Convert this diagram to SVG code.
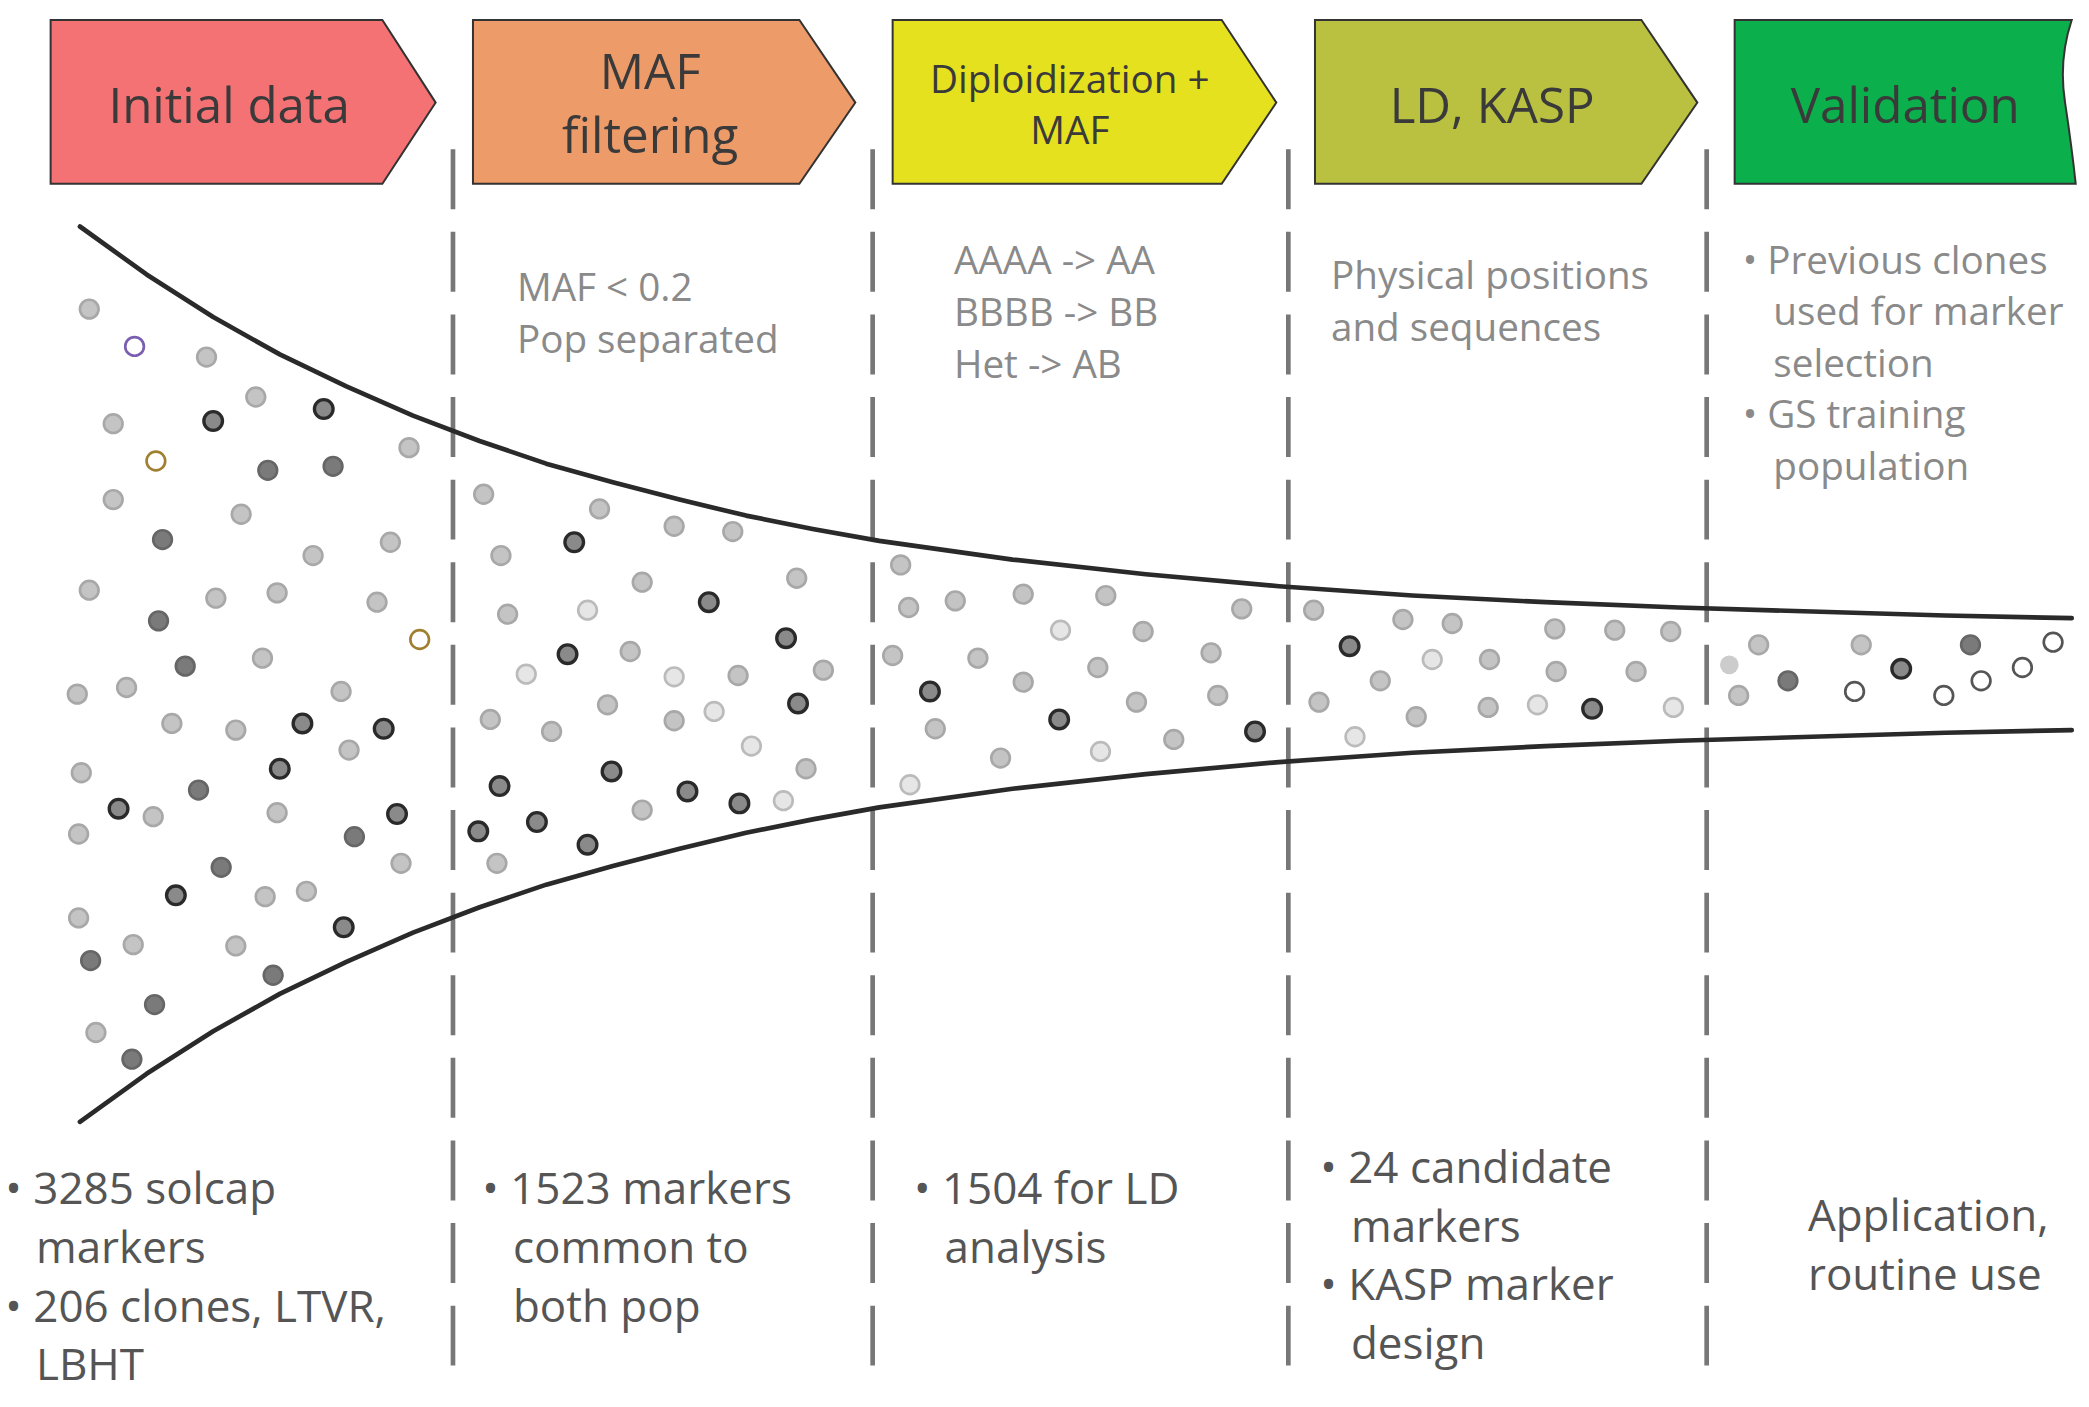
<svg xmlns="http://www.w3.org/2000/svg" width="2089" height="1407" viewBox="0 0 2089 1407">
<style>
.box{stroke:#333;stroke-width:1.5}
.hd{font-family:"Open Sans","Liberation Sans",sans-serif;fill:#3a3a3a;text-anchor:middle}
.tx{font-family:"Open Sans","Liberation Sans",sans-serif;fill:#8a8a8a;font-size:29px}
.bt{font-family:"Open Sans","Liberation Sans",sans-serif;fill:#555;font-size:33px}
.dash{stroke:#777;stroke-width:3.5;stroke-dasharray:45 17;fill:none}
.curve{stroke:#2a2a2a;stroke-width:3.5;fill:none;stroke-linejoin:round;stroke-linecap:round}
.l{fill:#c4c4c4;stroke:#a8a8a8;stroke-width:2}
.vl{fill:#e6e6e6;stroke:#bbb;stroke-width:2}
.m{fill:#a9a9a9;stroke:#7a7a7a;stroke-width:2}
.d{fill:#8a8a8a;stroke:#2a2a2a;stroke-width:2.5}
.g{fill:#7a7a7a;stroke:#666;stroke-width:2}
.o{fill:#fff;stroke:#555;stroke-width:2}
</style>
<rect width="2089" height="1407" fill="#fff"/>
<g transform="scale(1.3323)">
<g id="n-initial"><path class="box" d="M38 15H287L327 77L287 138H38Z" fill="#F47174"/><text class="hd" x="172" y="92" font-size="37">Initial data</text></g>
<g id="n-maf"><path class="box" d="M355 15H600L642 77L600 138H355Z" fill="#EE9B6A"/><text class="hd" x="488" y="67" font-size="37">MAF</text><text class="hd" x="488" y="115" font-size="37">filtering</text></g>
<g id="n-diplo"><path class="box" d="M670 15H917L958 77L917 138H670Z" fill="#E6E11E"/><text class="hd" x="803" y="70" font-size="29">Diploidization +</text><text class="hd" x="803" y="108" font-size="29">MAF</text></g>
<g id="n-ld"><path class="box" d="M987 15H1232L1274 77L1232 138H987Z" fill="#BAC140"/><text class="hd" x="1120" y="92" font-size="37">LD, KASP</text></g>
<g id="n-valid"><path class="box" d="M1302 15H1555Q1545 45 1550 77Q1555 110 1558 138H1302Z" fill="#0BAF4C"/><text class="hd" x="1430" y="92" font-size="37">Validation</text></g>
<g id="connectors">
<path class="dash" d="M340 112V1040M655 112V1040M967 112V1040M1281 112V1040"/>
<polyline class="curve" points="60,170 110,206 160,238 210,266 260,290 310,312 360,331 410,348 460,362 510,375 560,387 610,397 660,406 760,420 860,431 960,440 1060,447 1160,452 1260,456 1360,459 1460,462 1555,464"/>
<polyline class="curve" points="60,842 110,806 160,774 210,746 260,722 310,700 360,681 410,664 460,650 510,637 560,625 610,615 660,606 760,592 860,581 960,572 1060,565 1160,560 1260,556 1360,553 1460,550 1555,548"/>
</g>
<g id="dots">
<circle class="l" cx="67" cy="232" r="7"/><circle cx="101" cy="260" r="7" fill="#fff" stroke="#7a5fb0" stroke-width="2"/><circle class="l" cx="155" cy="268" r="7"/><circle class="l" cx="192" cy="298" r="7"/><circle class="d" cx="243" cy="307" r="7"/><circle class="l" cx="85" cy="318" r="7"/><circle class="d" cx="160" cy="316" r="7"/><circle cx="117" cy="346" r="7" fill="#fff" stroke="#a08030" stroke-width="2"/><circle class="g" cx="201" cy="353" r="7"/><circle class="g" cx="250" cy="350" r="7"/><circle class="l" cx="307" cy="336" r="7"/><circle class="l" cx="85" cy="375" r="7"/><circle class="l" cx="181" cy="386" r="7"/><circle class="g" cx="122" cy="405" r="7"/><circle class="l" cx="235" cy="417" r="7"/><circle class="l" cx="293" cy="407" r="7"/><circle class="l" cx="67" cy="443" r="7"/><circle class="l" cx="162" cy="449" r="7"/><circle class="l" cx="208" cy="445" r="7"/><circle class="l" cx="283" cy="452" r="7"/><circle class="g" cx="119" cy="466" r="7"/><circle class="g" cx="139" cy="500" r="7"/><circle class="l" cx="197" cy="494" r="7"/><circle cx="315" cy="480" r="7" fill="#fff" stroke="#a08030" stroke-width="2"/><circle class="l" cx="58" cy="521" r="7"/><circle class="l" cx="95" cy="516" r="7"/><circle class="l" cx="256" cy="519" r="7"/><circle class="l" cx="129" cy="543" r="7"/><circle class="l" cx="177" cy="548" r="7"/><circle class="d" cx="227" cy="543" r="7"/><circle class="d" cx="288" cy="547" r="7"/><circle class="l" cx="262" cy="563" r="7"/><circle class="d" cx="210" cy="577" r="7"/><circle class="l" cx="61" cy="580" r="7"/><circle class="g" cx="149" cy="593" r="7"/><circle class="d" cx="89" cy="607" r="7"/><circle class="l" cx="115" cy="613" r="7"/><circle class="l" cx="208" cy="610" r="7"/><circle class="d" cx="298" cy="611" r="7"/><circle class="l" cx="59" cy="626" r="7"/><circle class="g" cx="266" cy="628" r="7"/><circle class="g" cx="166" cy="651" r="7"/><circle class="l" cx="301" cy="648" r="7"/><circle class="d" cx="132" cy="672" r="7" fill="#bbb"/><circle class="l" cx="199" cy="673" r="7"/><circle class="l" cx="230" cy="669" r="7"/><circle class="l" cx="59" cy="689" r="7"/><circle class="d" cx="258" cy="696" r="7" fill="#ccc"/><circle class="l" cx="100" cy="709" r="7"/><circle class="l" cx="177" cy="710" r="7"/><circle class="g" cx="68" cy="721" r="7"/><circle class="g" cx="205" cy="732" r="7"/><circle class="g" cx="116" cy="754" r="7"/><circle class="l" cx="72" cy="775" r="7"/><circle class="g" cx="99" cy="795" r="7"/>
<circle class="l" cx="363" cy="371" r="7"/><circle class="l" cx="450" cy="382" r="7"/><circle class="l" cx="506" cy="395" r="7"/><circle class="l" cx="550" cy="399" r="7"/><circle class="l" cx="376" cy="417" r="7"/><circle class="d" cx="431" cy="407" r="7"/><circle class="l" cx="482" cy="437" r="7"/><circle class="l" cx="598" cy="434" r="7"/><circle class="l" cx="381" cy="461" r="7"/><circle class="vl" cx="441" cy="458" r="7"/><circle class="d" cx="532" cy="452" r="7"/><circle class="d" cx="590" cy="479" r="7"/><circle class="vl" cx="395" cy="506" r="7"/><circle class="d" cx="426" cy="491" r="7"/><circle class="l" cx="473" cy="489" r="7"/><circle class="vl" cx="506" cy="508" r="7"/><circle class="l" cx="554" cy="507" r="7"/><circle class="l" cx="618" cy="503" r="7"/><circle class="l" cx="368" cy="540" r="7"/><circle class="l" cx="414" cy="549" r="7"/><circle class="l" cx="456" cy="529" r="7"/><circle class="l" cx="506" cy="541" r="7"/><circle class="vl" cx="536" cy="534" r="7"/><circle class="d" cx="599" cy="528" r="7"/><circle class="vl" cx="564" cy="560" r="7"/><circle class="l" cx="605" cy="577" r="7"/><circle class="d" cx="459" cy="579" r="7"/><circle class="d" cx="375" cy="590" r="7"/><circle class="d" cx="516" cy="594" r="7"/><circle class="d" cx="555" cy="603" r="7"/><circle class="vl" cx="588" cy="601" r="7"/><circle class="d" cx="359" cy="624" r="7"/><circle class="d" cx="403" cy="617" r="7"/><circle class="l" cx="482" cy="608" r="7"/><circle class="d" cx="441" cy="634" r="7"/><circle class="l" cx="373" cy="648" r="7"/>
<circle class="l" cx="676" cy="424" r="7"/><circle class="l" cx="682" cy="456" r="7"/><circle class="l" cx="717" cy="451" r="7"/><circle class="l" cx="768" cy="446" r="7"/><circle class="l" cx="830" cy="447" r="7"/><circle class="l" cx="932" cy="457" r="7"/><circle class="l" cx="670" cy="492" r="7"/><circle class="l" cx="734" cy="494" r="7"/><circle class="vl" cx="796" cy="473" r="7"/><circle class="l" cx="858" cy="474" r="7"/><circle class="l" cx="909" cy="490" r="7"/><circle class="d" cx="698" cy="519" r="7"/><circle class="l" cx="768" cy="512" r="7"/><circle class="l" cx="824" cy="501" r="7"/><circle class="l" cx="914" cy="522" r="7"/><circle class="l" cx="702" cy="547" r="7"/><circle class="d" cx="795" cy="540" r="7"/><circle class="l" cx="853" cy="527" r="7"/><circle class="d" cx="942" cy="549" r="7"/><circle class="l" cx="751" cy="569" r="7"/><circle class="vl" cx="826" cy="564" r="7"/><circle class="l" cx="881" cy="555" r="7"/><circle class="vl" cx="683" cy="589" r="7"/>
<circle class="l" cx="986" cy="458" r="7"/><circle class="l" cx="1053" cy="465" r="7"/><circle class="l" cx="1090" cy="468" r="7"/><circle class="l" cx="1167" cy="472" r="7"/><circle class="l" cx="1212" cy="473" r="7"/><circle class="l" cx="1254" cy="474" r="7"/><circle class="d" cx="1013" cy="485" r="7"/><circle class="vl" cx="1075" cy="495" r="7"/><circle class="l" cx="1118" cy="495" r="7"/><circle class="l" cx="1168" cy="504" r="7"/><circle class="l" cx="1228" cy="504" r="7"/><circle class="l" cx="990" cy="527" r="7"/><circle class="l" cx="1036" cy="511" r="7"/><circle class="l" cx="1063" cy="538" r="7"/><circle class="l" cx="1117" cy="531" r="7"/><circle class="vl" cx="1154" cy="529" r="7"/><circle class="d" cx="1195" cy="532" r="7"/><circle class="vl" cx="1256" cy="531" r="7"/><circle class="vl" cx="1017" cy="553" r="7"/>
<circle class="l" cx="1320" cy="484" r="7"/><circle class="l" cx="1397" cy="484" r="7"/><circle class="g" cx="1479" cy="484" r="7" fill="#555"/><circle class="o" cx="1541" cy="482" r="7"/><circle cx="1298" cy="499" r="7" fill="#ccc"/><circle class="d" cx="1427" cy="502" r="7"/><circle class="o" cx="1518" cy="501" r="7"/><circle class="g" cx="1342" cy="511" r="7" fill="#444"/><circle class="l" cx="1305" cy="522" r="7"/><circle class="o" cx="1392" cy="519" r="7"/><circle class="o" cx="1459" cy="522" r="7"/><circle class="o" cx="1487" cy="511" r="7"/>
</g>
<g id="top-texts" xml:space="preserve">
<text class="tx" x="388" y="226">MAF &lt; 0.2</text><text class="tx" x="388" y="265">Pop separated</text>
<text class="tx" x="716" y="206">AAAA -&gt; AA</text><text class="tx" x="716" y="245">BBBB  -&gt; BB</text><text class="tx" x="716" y="284">Het     -&gt; AB</text>
<text class="tx" x="999" y="217">Physical positions</text><text class="tx" x="999" y="256">and sequences</text>
<text class="tx" x="1308" y="206">• Previous clones</text><text class="tx" x="1331" y="244">used for marker</text><text class="tx" x="1331" y="283">selection</text><text class="tx" x="1308" y="321">• GS training</text><text class="tx" x="1331" y="360">population</text>
</g>
<g id="bottom-texts">
<text class="bt" x="4" y="904">• 3285 solcap</text><text class="bt" x="27" y="948">markers</text><text class="bt" x="4" y="992">• 206 clones, LTVR,</text><text class="bt" x="27" y="1036">LBHT</text>
<text class="bt" x="362" y="904">• 1523 markers</text><text class="bt" x="385" y="948">common to</text><text class="bt" x="385" y="992">both pop</text>
<text class="bt" x="686" y="904">• 1504 for LD</text><text class="bt" x="709" y="948">analysis</text>
<text class="bt" x="991" y="888">• 24 candidate</text><text class="bt" x="1014" y="932">markers</text><text class="bt" x="991" y="976">• KASP marker</text><text class="bt" x="1014" y="1020">design</text>
<text class="bt" x="1357" y="924">Application,</text><text class="bt" x="1357" y="968">routine use</text>
</g>
</g>
</svg>
